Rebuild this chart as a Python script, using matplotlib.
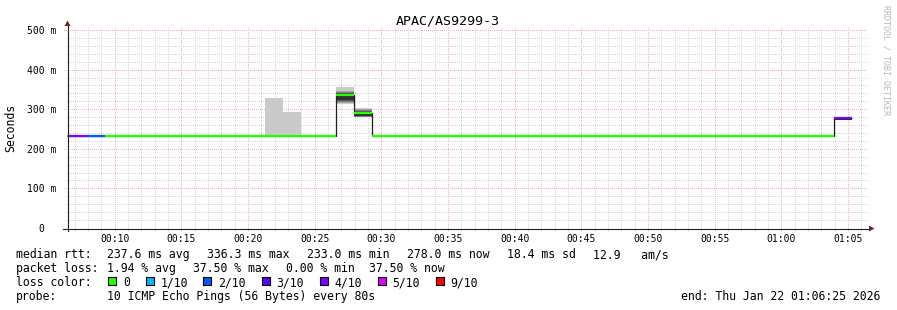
import numpy as np
import matplotlib.pyplot as plt
from matplotlib.patches import Rectangle, Polygon

plt.rcParams['font.family'] = ['DejaVu Sans Mono']

# --- data --------------------------------------------------------------
title = "APAC/AS9299-3"

# x axis is minutes after 00:00, one hour window ending 01:06:25
view_start = 6 + 25 / 60
view_end = view_start + 60
first_step = 6.6 - 80 / 60      # first (partial) 80 s step
step_len = 80 / 60

# median rtt per 80 s step (ms)
median_ms = [
    233.0, 233.0, 233.0, 233.0, 233.0, 233.0, 233.0, 233.0, 233.0, 233.0,
    233.0, 233.0, 233.0, 233.0, 233.0, 233.0, 336.3, 291.0, 233.0, 233.0,
    233.0, 233.0, 233.0, 233.0, 233.0, 233.0, 233.0, 233.0, 233.0, 233.0,
    233.0, 233.0, 233.0, 233.0, 233.0, 233.0, 233.0, 233.0, 233.0, 233.0,
    233.0, 233.0, 233.0, 233.0, 278.0,
]
# lost pings (out of 10) per step
loss_pings = [
    0, 3.5, 1.5, 0, 0, 0, 0, 0, 0, 0,
    0, 0, 0, 0, 0, 0, 0, 0, 0, 0,
    0, 0, 0, 0, 0, 0, 0, 0, 0, 0,
    0, 0, 0, 0, 0, 0, 0, 0, 0, 0,
    0, 0, 0, 0, 3.75,
]
# steps with visible smoke and their sorted ping times (ms)
smoke_steps = [12, 13, 16, 17, 44]
smoke_pings = [
    [232.6, 232.8, 233.0, 233.0, 233.0, 233.0, 233.1, 233.2, 233.4, 328.0],
    [232.6, 232.8, 233.0, 233.0, 233.0, 233.0, 233.1, 233.2, 233.4, 293.0],
    [313.0, 315.0, 318.0, 321.0, 323.0, 338.0, 340.0, 343.0, 346.0, 357.0],
    [279.5, 280.5, 281.5, 283.0, 284.0, 294.0, 295.0, 297.0, 299.5, 303.0],
    [266.0, 268.0, 270.0, 271.0, 272.0, 278.0, np.nan, np.nan, np.nan, np.nan],
]

loss_levels = [0, 1, 2, 3, 4, 5, 9]
loss_labels = ["0", "1/10", "2/10", "3/10", "4/10", "5/10", "9/10"]
loss_colors = ["#26ff00", "#00b8ff", "#0059ff", "#5e00ff", "#7e00ff", "#dd00ff", "#ff0000"]
smoke_shades = ["#cacaca", "#a4a4a4", "#7e7e7e", "#585858", "#323232"]

y_ticks = [0, 100, 200, 300, 400, 500]
x_ticks = [10, 15, 20, 25, 30, 35, 40, 45, 50, 55, 60, 65]

rtt_items = ["237.6 ms avg", "336.3 ms max", "233.0 ms min", "278.0 ms now",
             "18.4 ms sd", "12.9   am/s"]
loss_items = ["1.94 % avg", "37.50 % max", "0.00 % min", "37.50 % now"]
probe_text = "10 ICMP Echo Pings (56 Bytes) every 80s"
end_text = "end: Thu Jan 22 01:06:25 2026"


def loss_color(loss):
    for level, col in zip(loss_levels, loss_colors):
        if loss <= level:
            return col
    return loss_colors[-1]


W, H = 897, 310
fig = plt.figure(figsize=(W / 100, H / 100), dpi=100)
fig.patch.set_facecolor('white')

# plot area in pixels: x 67..867, y 30..228
ax = fig.add_axes([67 / W, (H - 228) / H, 800 / W, 198 / H])
ax.set_xlim(view_start, view_end)
ax.set_ylim(0, 500)
for s in ax.spines.values():
    s.set_visible(False)

# grid
minor_c, major_c = '#d6d6d6', '#f2b0b0'
for m in range(7, 67):
    c = major_c if m % 5 == 0 else minor_c
    ax.plot([m, m], [-6, 508], color=c, lw=0.72, ls=(0, (1, 2)),
            antialiased=False, clip_on=False, zorder=0)
for v in range(20, 501, 20):
    major = v % 100 == 0
    x0 = view_start - (0.2 if major else 0.0)
    ax.plot([x0, view_end + 0.05], [v, v], color=major_c if major else minor_c,
            lw=0.72, ls=(0, (1, 2)), antialiased=False, clip_on=False, zorder=0)

edges = first_step + step_len * np.arange(len(median_ms) + 1)

# smoke
for idx, pings in zip(smoke_steps, smoke_pings):
    for j in range(5):
        lo, hi = pings[j], pings[9 - j]
        if np.isnan(lo) or np.isnan(hi):
            continue
        ax.bar(edges[idx], hi - lo, bottom=lo, width=step_len, align='edge',
               color=smoke_shades[j], linewidth=0, zorder=2)

# median line, dark outline then loss coloured
ax.stairs(median_ms, edges, baseline=None, color='#202020', lw=0.9, zorder=3)
ax.hlines(median_ms, edges[:-1], edges[1:],
          colors=[loss_color(l) for l in loss_pings], lw=1.6, zorder=4)

ax.set_xticks(x_ticks)
ax.set_xticklabels([f"{m // 60:02d}:{m % 60:02d}" for m in x_ticks])
ax.set_yticks(y_ticks)
ax.set_yticklabels([f"{v} m" if v else "0  " for v in y_ticks])
ax.tick_params(axis='x', length=0, pad=4.3, labelsize=7)
ax.tick_params(axis='y', length=0, pad=7.4, labelsize=7)

# overlay in pixel coordinates for axes, arrows and legend
ov = fig.add_axes([0, 0, 1, 1], zorder=5)
ov.set_xlim(0, W)
ov.set_ylim(H, 0)
ov.axis('off')
ov.patch.set_alpha(0)

axis_c, arrow_c = '#1f1f1f', '#801f1f'
ov.plot([67.5, 67.5], [231, 26], color=axis_c, lw=0.8)
ov.plot([63, 869], [228.5, 228.5], color=axis_c, lw=0.8)
ov.add_patch(Polygon([[64.5, 26], [70.5, 26], [67.5, 20.5]], closed=True,
                     color=arrow_c, lw=0))
ov.add_patch(Polygon([[869, 225.5], [869, 231.5], [874.5, 228.5]], closed=True,
                     color=arrow_c, lw=0))

ov.text(448, 24, title, ha='center', va='baseline', fontsize=9.6)
ov.text(11, 128, "Seconds", rotation=90, ha='center', va='center', fontsize=8.3)
ov.text(886, 60, "RRDTOOL / TOBI OETIKER", rotation=270, ha='center', va='center',
        fontsize=6, color='#b8b8b8')

fs = 8.3
ov.text(16, 258, "median rtt:", fontsize=fs, va='baseline')
for x, t in zip([107, 207, 307, 407, 507, 593], rtt_items):
    ov.text(x, 258, t, fontsize=fs, va='baseline')

ov.text(16, 272, "packet loss:", fontsize=fs, va='baseline')
for x, t in zip([107, 193, 286, 369], loss_items):
    ov.text(x, 272, t, fontsize=fs, va='baseline')

ov.text(16, 286, "loss color:", fontsize=fs, va='baseline')
box_x = [108, 145.5, 203, 261.5, 319.5, 377.5, 435.5]
for bx, lab, col in zip(box_x, loss_labels, loss_colors):
    ov.add_patch(Rectangle((bx, 277), 8, 8, facecolor=col, edgecolor='black', lw=0.8))
    ov.text(bx + 15, 286, lab, fontsize=fs, va='baseline')

ov.text(16, 300, "probe:", fontsize=fs, va='baseline')
ov.text(107, 300, probe_text, fontsize=fs, va='baseline')
ov.text(880, 300, end_text, fontsize=fs, va='baseline', ha='right')

fig.savefig("out.png", dpi=100)
